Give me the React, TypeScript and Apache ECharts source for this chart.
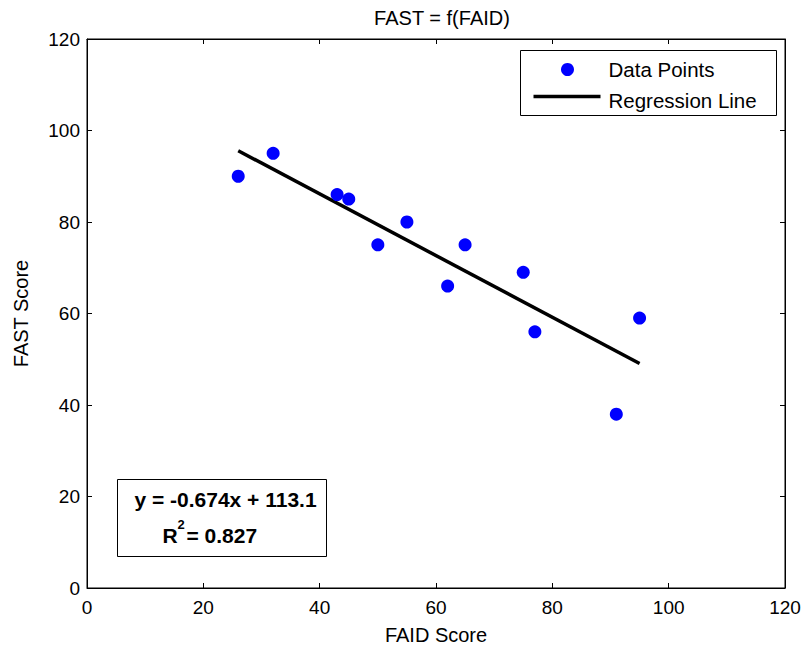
import React, { useEffect, useRef } from "react";
import * as echarts from "echarts";

const faidScores = [26, 32, 43, 45, 50, 55, 62, 65, 75, 77, 91, 95];
const fastScores = [90, 95, 86, 85, 75, 80, 66, 75, 69, 56, 38, 59];
const regressionSlope = -0.674;
const regressionIntercept = 113.1;
const regressionXRange = [26, 95];
const rSquared = 0.827;
const axisTicks = [0, 20, 40, 60, 80, 100, 120];

const FONT = "'Liberation Sans', Arial, Helvetica, sans-serif";

export default function App() {
  const ref = useRef<HTMLDivElement>(null);

  useEffect(() => {
    if (!ref.current) return;
    const chart = echarts.init(ref.current, undefined, { renderer: "svg" });

    const scatterData = faidScores.map((x, i) => [x, fastScores[i]]);
    const lineData = regressionXRange.map((x) => [x, regressionSlope * x + regressionIntercept]);

    const axisMin = axisTicks[0];
    const axisMax = axisTicks[axisTicks.length - 1];
    const interval = axisTicks[1] - axisTicks[0];

    const baseAxis = {
      type: "value" as const,
      min: axisMin,
      max: axisMax,
      interval,
      splitLine: { show: false },
      axisLine: { show: true, onZero: false, lineStyle: { color: "#000", width: 1 } },
      axisTick: { show: true, inside: true, length: 5, lineStyle: { color: "#000" } },
    };

    const option = {
      animation: false,
      backgroundColor: "#fff",
      textStyle: { fontFamily: FONT },
      title: {
        text: "FAST = f(FAID)",
        left: 437,
        top: 3,
        textAlign: "center",
        textStyle: { fontFamily: FONT, fontSize: 20, fontWeight: "normal", color: "#000" },
      },
      grid: {
        left: 87,
        top: 39,
        right: 19,
        bottom: 61,
        containLabel: false,
        outerBoundsMode: "none",
        show: true,
        borderColor: "#000",
        borderWidth: 1,
        backgroundColor: "#fff",
      },
      xAxis: [
        {
          ...baseAxis,
          position: "bottom",
          name: "FAID Score",
          nameLocation: "middle",
          nameGap: 37,
          nameTextStyle: { fontFamily: FONT, fontSize: 20, color: "#000" },
          axisLabel: { show: true, margin: 10, fontFamily: FONT, fontSize: 19, color: "#000" },
        },
        { ...baseAxis, position: "top", axisLabel: { show: false } },
      ],
      yAxis: [
        {
          ...baseAxis,
          position: "left",
          name: "FAST Score",
          nameLocation: "middle",
          nameGap: 56,
          nameRotate: 90,
          nameTextStyle: { fontFamily: FONT, fontSize: 20, color: "#000" },
          axisLabel: { show: true, margin: 7, fontFamily: FONT, fontSize: 19, color: "#000" },
        },
        { ...baseAxis, position: "right", axisLabel: { show: false } },
      ],
      series: [
        {
          name: "Data Points",
          type: "scatter",
          xAxisIndex: 0,
          yAxisIndex: 0,
          data: scatterData,
          symbol: "circle",
          symbolSize: 13,
          itemStyle: { color: "#0000ff", opacity: 1 },
          z: 3,
        },
        {
          name: "Regression Line",
          type: "line",
          xAxisIndex: 0,
          yAxisIndex: 0,
          data: lineData,
          showSymbol: false,
          symbol: "none",
          lineStyle: { color: "#000", width: 3.5 },
          z: 2,
        },
      ],
      graphic: [
        {
          type: "group",
          left: 520,
          top: 50,
          children: [
            { type: "rect", shape: { x: 0, y: 0, width: 256, height: 65 }, style: { fill: "#fff", stroke: "#000", lineWidth: 1 } },
            { type: "circle", shape: { cx: 47, cy: 19, r: 6.5 }, style: { fill: "#0000ff" } },
            { type: "line", shape: { x1: 13, y1: 46, x2: 80, y2: 46 }, style: { stroke: "#000", lineWidth: 3.5 } },
            { type: "text", x: 88, y: 19, style: { text: "Data Points", font: `20.5px ${FONT}`, fill: "#000", verticalAlign: "middle", align: "left" } },
            { type: "text", x: 88, y: 50, style: { text: "Regression Line", font: `20.5px ${FONT}`, fill: "#000", verticalAlign: "middle", align: "left" } },
          ],
        },
        {
          type: "group",
          left: 117,
          top: 479,
          children: [
            { type: "rect", shape: { x: 0, y: 0, width: 209, height: 77 }, style: { fill: "#fff", stroke: "#000", lineWidth: 1 } },
            {
              type: "text",
              x: 108,
              y: 20,
              style: {
                text: `y = ${regressionSlope.toFixed(3)}x + ${regressionIntercept.toFixed(1)}`,
                font: `bold 21px ${FONT}`,
                fill: "#000",
                align: "center",
                verticalAlign: "middle",
              },
            },
            { type: "text", x: 45, y: 56, style: { text: "R", font: `bold 21px ${FONT}`, fill: "#000", align: "left", verticalAlign: "middle" } },
            { type: "text", x: 60, y: 45, style: { text: "2", font: `bold 13px ${FONT}`, fill: "#000", align: "left", verticalAlign: "middle" } },
            { type: "text", x: 69, y: 56, style: { text: `= ${rSquared.toFixed(3)}`, font: `bold 21px ${FONT}`, fill: "#000", align: "left", verticalAlign: "middle" } },
          ],
        },
      ],
    };

    chart.setOption(option as any);
    return () => chart.dispose();
  }, []);

  return <div ref={ref} style={{ position: "fixed", left: 0, top: 0, width: 804, height: 649 }} />;
}
